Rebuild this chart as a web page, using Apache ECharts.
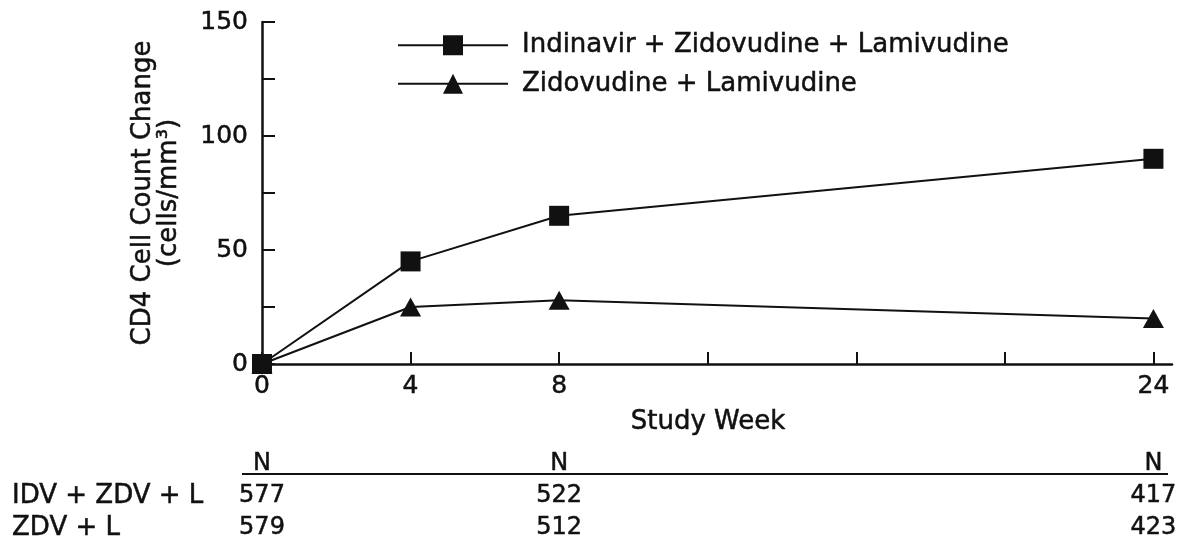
<!DOCTYPE html>
<html>
<head>
<meta charset="utf-8">
<script src="https://cdn.jsdelivr.net/npm/echarts@6/dist/echarts.min.js"></script>
<style>
  html, body { margin: 0; padding: 0; background: #ffffff; }
  #chart { width: 1185px; height: 544px; }
</style>
</head>
<body>
<div id="chart"></div>
<script>
// CD4 cell count change by study week, with patient counts below
const weeks = [0, 4, 8, 24];
const seriesNames = ['Indinavir + Zidovudine + Lamivudine', 'Zidovudine + Lamivudine'];
const idvZdvL = [0, 45, 65, 90];
const zdvL = [0, 25, 28, 20];

const xTickValues = [0, 4, 8, 12, 16, 20, 24];
const xLabelValues = [0, 4, 8, 24];
const yTickValues = [0, 25, 50, 75, 100, 125, 150];
const yLabelValues = [0, 50, 100, 150];

const countWeeks = [0, 8, 24];
const countHeader = 'N';
const countRows = ['IDV + ZDV + L', 'ZDV + L'];
const countsIdv = [577, 522, 417];
const countsZdv = [579, 512, 423];

const INK = '#111111';
const FONT = 'DejaVu Sans';
// a hairline outline in the text colour gives the lettering a little more weight
const HEAVY = { textBorderColor: INK, textBorderWidth: 0.5 };

const chart = echarts.init(document.getElementById('chart'), null, { renderer: 'canvas' });

const toPoints = (xs, ys) => xs.map((x, i) => [x, ys[i]]);

const countData = [];
countWeeks.forEach((w) => countData.push([w, countHeader, countHeader]));
countWeeks.forEach((w, i) => countData.push([w, countRows[0], countsIdv[i]]));
countWeeks.forEach((w, i) => countData.push([w, countRows[1], countsZdv[i]]));

const option = {
  backgroundColor: '#ffffff',
  animation: false,
  textStyle: { fontFamily: FONT, color: INK },
  grid: [
    { left: 262, right: 13, top: 22, bottom: 180, containLabel: false },
    { left: 262, right: 13, top: 448, height: 98, containLabel: false }
  ],
  legend: {
    orient: 'vertical',
    left: 392,
    top: 27,
    itemWidth: 110,
    itemHeight: 25,
    itemGap: 12,
    textStyle: Object.assign({ fontFamily: FONT, fontSize: 26, color: INK, padding: [0, 0, 0, 9] }, HEAVY),
    data: seriesNames
  },
  xAxis: [
    {
      type: 'value',
      gridIndex: 0,
      min: 0,
      max: 24.5,
      interval: 4,
      splitLine: { show: false },
      axisLine: { show: true, onZero: false, lineStyle: { color: INK, width: 2.5 } },
      axisTick: { show: true, inside: true, length: 12, customValues: xTickValues, lineStyle: { color: INK, width: 2 } },
      axisLabel: Object.assign({ show: true, customValues: xLabelValues, margin: 10, fontFamily: FONT, fontSize: 25, color: INK }, HEAVY),
      name: 'Study Week',
      nameLocation: 'middle',
      nameGap: 45,
      nameTextStyle: Object.assign({ fontFamily: FONT, fontSize: 26, color: INK, padding: [0, 18, 0, 0] }, HEAVY)
    },
    {
      type: 'value',
      gridIndex: 1,
      min: 0,
      max: 24.5,
      show: false
    }
  ],
  yAxis: [
    {
      type: 'value',
      gridIndex: 0,
      min: 0,
      max: 150,
      interval: 25,
      splitLine: { show: false },
      axisLine: { show: true, lineStyle: { color: INK, width: 2.5 } },
      axisTick: { show: true, inside: true, length: 13, customValues: yTickValues, lineStyle: { color: INK, width: 2 } },
      axisLabel: Object.assign({ show: true, customValues: yLabelValues, margin: 14, fontFamily: FONT, fontSize: 25, color: INK }, HEAVY),
      name: 'CD4 Cell Count Change\n(cells/mm³)',
      nameLocation: 'middle',
      nameRotate: 90,
      nameGap: 80,
      nameTextStyle: Object.assign({ fontFamily: FONT, fontSize: 26, lineHeight: 26, color: INK, align: 'center' }, HEAVY)
    },
    {
      type: 'category',
      gridIndex: 1,
      inverse: true,
      data: [countHeader].concat(countRows),
      axisLine: { show: false },
      axisTick: { show: false },
      splitLine: { show: false },
      axisLabel: Object.assign({
        show: true,
        interval: 0,
        hideOverlap: false,
        align: 'left',
        margin: 250,
        fontFamily: FONT,
        fontSize: 26,
        color: INK,
        formatter: (v) => (v === countHeader ? '' : v)
      }, HEAVY)
    }
  ],
  series: [
    {
      name: seriesNames[0],
      type: 'line',
      xAxisIndex: 0,
      yAxisIndex: 0,
      data: toPoints(weeks, idvZdvL),
      symbol: 'rect',
      symbolSize: 20,
      clip: false,
      z: 4,
      lineStyle: { color: INK, width: 2 },
      itemStyle: { color: INK, borderWidth: 0 }
    },
    {
      name: seriesNames[1],
      type: 'line',
      xAxisIndex: 0,
      yAxisIndex: 0,
      data: toPoints(weeks, zdvL),
      symbol: 'triangle',
      symbolSize: [21, 19],
      clip: false,
      z: 3,
      lineStyle: { color: INK, width: 2 },
      itemStyle: { color: INK, borderWidth: 0 }
    },
    {
      name: 'counts',
      type: 'scatter',
      xAxisIndex: 1,
      yAxisIndex: 1,
      data: countData,
      symbolSize: 1,
      itemStyle: { color: 'rgba(0,0,0,0)', opacity: 1 },
      silent: true,
      label: {
        show: true,
        position: 'inside',
        fontFamily: FONT,
        fontSize: 24,
        color: INK,
        opacity: 1,
        textBorderColor: INK,
        textBorderWidth: 0.5,
        formatter: (p) => String(p.value[2])
      }
    }
  ],
  graphic: [
    {
      type: 'line',
      shape: { x1: 242, y1: 474, x2: 1168, y2: 474 },
      style: { stroke: INK, lineWidth: 2 },
      z: 1
    }
  ]
};

chart.setOption(option);
</script>
</body>
</html>
